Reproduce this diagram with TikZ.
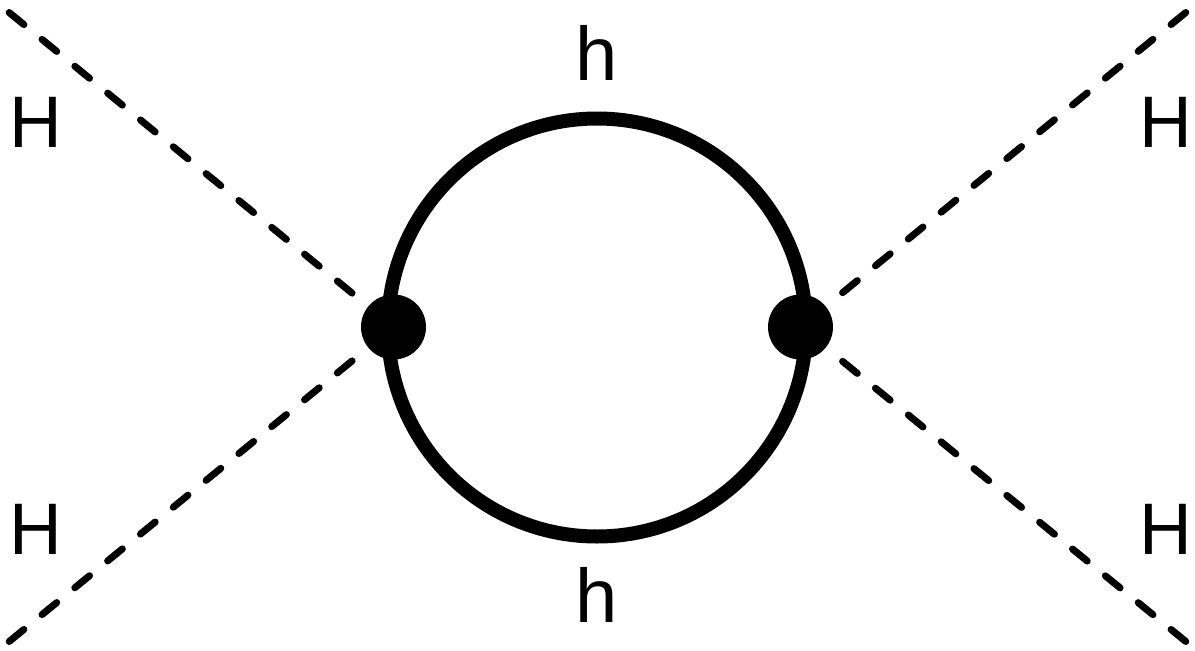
\documentclass[tikz,border=0pt]{standalone}
\usepackage{fontspec}
\setmainfont{Liberation Sans}
\begin{document}
\begin{tikzpicture}[x=1pt,y=-1pt,
  scalar/.style={line width=7pt, line cap=round, dash pattern=on 19pt off 23.4pt, dash phase=30.5pt},
  vertex/.style={circle, fill=black, inner sep=0pt, minimum size=65pt},
  loopline/.style={circle, draw=black, line width=14pt, inner sep=0pt, minimum size=418pt},
  bigH/.style={inner sep=0pt, anchor=base, font=\fontsize{73}{80}\selectfont},
  smallh/.style={inner sep=0pt, anchor=base, font=\fontsize{76}{84}\selectfont}]
\useasboundingbox (0,0) rectangle (1195,651);
\node[loopline] (loop) at (597,327.5) {};
\coordinate (tl) at (0,5);
\coordinate (bl) at (0,649);
\coordinate (tr) at (1195,5);
\coordinate (br) at (1195,649);
\node[vertex] (L) at (393.5,327) {};
\node[vertex] (R) at (800.5,327) {};
\draw[scalar] (tl) -- (L);
\draw[scalar] (bl) -- (L);
\draw[scalar] (tr) -- (R);
\draw[scalar] (br) -- (R);
\node[bigH] (hTL) at (36,147.3) {H};
\node[bigH] (hBL) at (36,554) {H};
\node[bigH] (hTR) at (1166,147.3) {H};
\node[bigH] (hBR) at (1166,554) {H};
\node[smallh] (hT) at (597,80) {h};
\node[smallh] (hB) at (597,622) {h};
\end{tikzpicture}
\end{document}
